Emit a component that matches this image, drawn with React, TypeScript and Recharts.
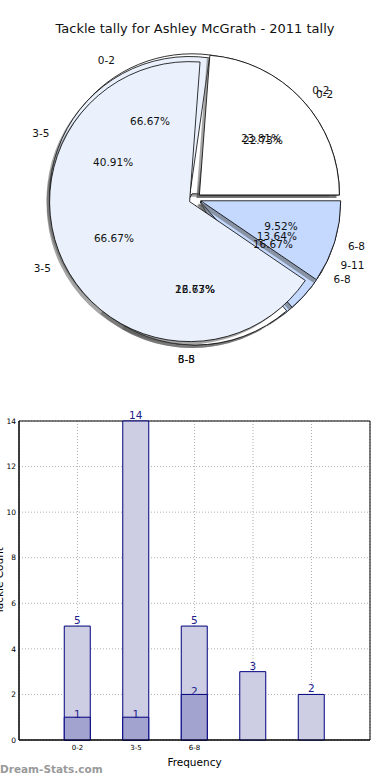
import { PieChart, Pie, Cell, Sector, BarChart, Bar, XAxis, YAxis, CartesianGrid, LabelList, ReferenceArea } from "recharts";

// pies drawn bottom to top, like the original overlapping plot
const pieCNames = ["0-2", "3-5", "6-8"];
const pieCValues = [4, 1, 1];
const pieBNames = ["0-2", "3-5", "6-8", "9-11"];
const pieBValues = [5, 9, 5, 3];
const pieANames = ["0-2", "3-5", "6-8"];
const pieAValues = [5, 14, 2];

const binLabels = ["0-2", "3-5", "6-8", "", ""];
const binPositions = [1, 2, 3, 4, 5];
const totalCounts = [5, 14, 5, 3, 2];
const subCounts = [1, 1, 2, 0, 0];
const yTicks = [0, 2, 4, 6, 8, 10, 12, 14];

const WHITE = "#ffffff";
const PALE = "#eaf1fd";
const BLUE = "#c5d9fe";
const colorsC = [WHITE, PALE, BLUE];
const colorsB = [WHITE, PALE, WHITE, BLUE];
const colorsA = [WHITE, PALE, BLUE];

const CX = 195;
const CY = 199;
const R = 140;
const EXPLODE = 6;
const FONT = '"DejaVu Sans", sans-serif';

const toRows = (names: string[], values: number[]) => names.map((name, i) => ({ name, value: values[i] }));
const pieC = toRows(pieCNames, pieCValues);
const pieB = toRows(pieBNames, pieBValues);
const pieA = toRows(pieANames, pieAValues);

const barData = binPositions.map((x, i) => ({ x, total: totalCounts[i], sub: subCounts[i] }));

function ExplodedSector(props: any) {
  const { cx, cy, midAngle, fill, innerRadius, outerRadius, startAngle, endAngle } = props;
  const rad = (midAngle * Math.PI) / 180;
  const x = cx + EXPLODE * Math.cos(rad);
  const y = cy - EXPLODE * Math.sin(rad);
  const geo = { innerRadius, outerRadius, startAngle, endAngle };
  return (
    <g>
      <Sector {...geo} cx={x - 3} cy={y + 3} fill="#4d4d4d" fillOpacity={0.5} stroke="none" />
      <Sector {...geo} cx={x} cy={y} fill={fill} stroke="#000" strokeWidth={0.8} />
    </g>
  );
}

function sliceLabel(props: any) {
  const { cx, cy, midAngle, outerRadius, percent, name } = props;
  const rad = (midAngle * Math.PI) / 180;
  const c = Math.cos(rad);
  const s = Math.sin(rad);
  const x = cx + EXPLODE * c;
  const y = cy - EXPLODE * s;
  return (
    <g>
      <text x={x + 1.1 * outerRadius * c} y={y - 1.1 * outerRadius * s} textAnchor={c >= 0 ? "start" : "end"} dominantBaseline="central" fontSize={10.5} fill="#111" fontFamily={FONT}>
        {name}
      </text>
      <text x={x + 0.6 * outerRadius * c} y={y - 0.6 * outerRadius * s} textAnchor="middle" dominantBaseline="central" fontSize={10.5} fill="#111" fontFamily={FONT}>
        {(percent * 100).toFixed(2)}%
      </text>
    </g>
  );
}

export default function App() {
  const sets = [
    { data: pieC, colors: colorsC },
    { data: pieB, colors: colorsB },
    { data: pieA, colors: colorsA },
  ];
  return (
    <div style={{ position: "absolute", left: 0, top: 0, width: 390, height: 780, background: "#fff", fontFamily: FONT, overflow: "hidden" }}>
      <div style={{ position: "absolute", top: 21, left: 0, width: 390, textAlign: "center", fontSize: 13, color: "#111" }}>
        Tackle tally for Ashley McGrath - 2011 tally
      </div>
      <div style={{ position: "absolute", top: 0, left: 0 }}>
        <PieChart width={390} height={380} margin={{ top: 0, right: 0, bottom: 0, left: 0 }}>
          {sets.map((s, k) => (
            <Pie key={"s" + k} data={s.data} dataKey="value" nameKey="name" cx={CX} cy={CY} outerRadius={R} startAngle={0} endAngle={360} shape={ExplodedSector} isAnimationActive={false}>
              {s.data.map((d, i) => (
                <Cell key={d.name + i} fill={s.colors[i]} />
              ))}
            </Pie>
          ))}
          {sets.map((s, k) => (
            <Pie key={"l" + k} data={s.data} dataKey="value" nameKey="name" cx={CX} cy={CY} outerRadius={R} startAngle={0} endAngle={360} fill="none" stroke="none" label={sliceLabel} labelLine={false} isAnimationActive={false} />
          ))}
        </PieChart>
      </div>
      <div style={{ position: "absolute", top: 400, left: 0 }}>
        <BarChart width={390} height={380} data={barData} margin={{ top: 21, right: 20, bottom: 0, left: 0 }} barGap={-26}>
          <CartesianGrid stroke="#b0b0b0" strokeDasharray="1 2" />
          <XAxis
            dataKey="x"
            type="number"
            domain={[0, 6]}
            ticks={binPositions}
            tickFormatter={(v: number) => binLabels[v - 1]}
            height={40}
            tickLine={false}
            tickSize={3}
            tickMargin={2}
            axisLine={{ stroke: "#000" }}
            tick={{ fontSize: 7, fill: "#000" }}
            label={{ value: "Frequency", position: "insideBottom", offset: 14, fontSize: 10.5, fill: "#000" }}
          />
          <YAxis
            type="number"
            domain={[0, 14]}
            ticks={yTicks}
            width={19}
            tickLine={false}
            tickSize={2}
            tickMargin={1}
            axisLine={{ stroke: "#000" }}
            tick={{ fontSize: 7.5, fill: "#000" }}
            label={{ value: "Tackle Count", angle: -90, position: "center", dx: -10, fontSize: 10.5, fill: "#000" }}
          />
          <Bar dataKey="total" barSize={26} fill="#cdcde3" stroke="#00007f" strokeWidth={1} isAnimationActive={false}>
            <LabelList dataKey="total" position="top" offset={2} fill="#1d1d8c" fontSize={10.5} />
          </Bar>
          <Bar dataKey="sub" barSize={26} fill="#a3a3cf" stroke="#00007f" strokeWidth={1} isAnimationActive={false}>
            <LabelList dataKey="sub" position="top" offset={-1} fill="#1d1d8c" fontSize={10.5} formatter={(v: any) => (v ? v : "")} />
          </Bar>
          <ReferenceArea x1={0} x2={6} y1={0} y2={14} fill="none" stroke="#000" strokeWidth={1} ifOverflow="visible" />
        </BarChart>
      </div>
      <div style={{ position: "absolute", top: 763, left: 0, fontSize: 10.5, fontWeight: "bold", color: "#9a9a9a", whiteSpace: "nowrap" }}>Dream-Stats.com</div>
    </div>
  );
}
